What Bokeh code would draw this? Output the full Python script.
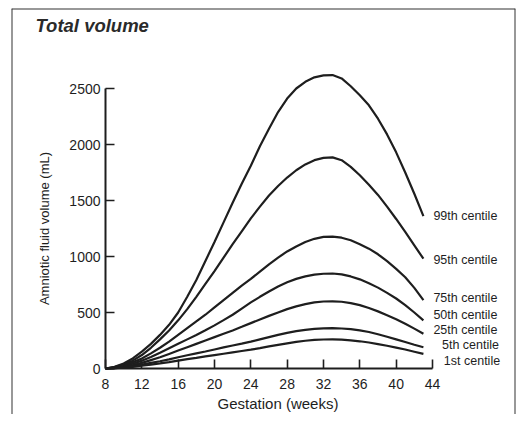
from bokeh.plotting import figure
from bokeh.models import Range1d, FixedTicker, ColumnDataSource, LinearAxis, Label
from bokeh.core.properties import value
from bokeh.embed import file_html
from bokeh.resources import INLINE

# ---- data ----
weeks = [8, 9, 10, 11, 12, 13, 14, 15, 16, 17, 18, 19, 20, 21, 22, 23, 24, 25,
         26, 27, 28, 29, 30, 31, 32, 33, 34, 35, 36, 37, 38, 39, 40, 41, 42, 43]
c99 = [0, 15, 45, 90, 150, 220, 300, 390, 500, 640, 790, 960, 1130, 1305, 1480, 1650, 1810, 1985,
       2140, 2290, 2410, 2500, 2560, 2600, 2617, 2620, 2590, 2520, 2440, 2350, 2230, 2090, 1930, 1750, 1560, 1360]
c95 = [0, 12, 35, 70, 120, 185, 260, 340, 430, 530, 640, 755, 870, 990, 1110, 1225, 1340, 1445,
       1545, 1630, 1705, 1770, 1822, 1860, 1880, 1885, 1860, 1800, 1725, 1640, 1550, 1445, 1335, 1220, 1100, 980]
c75 = [0, 8, 25, 55, 90, 135, 185, 240, 300, 360, 420, 480, 545, 610, 675, 740, 800, 865,
       930, 990, 1045, 1090, 1130, 1158, 1175, 1178, 1168, 1145, 1110, 1070, 1020, 958, 890, 815, 720, 610]
c50 = [0, 6, 20, 42, 70, 103, 140, 180, 220, 260, 300, 342, 385, 432, 480, 535, 590, 640,
       688, 732, 770, 800, 823, 838, 846, 848, 840, 822, 796, 762, 722, 675, 625, 565, 500, 430]
c25 = [0, 5, 15, 30, 50, 75, 100, 130, 160, 190, 220, 250, 280, 310, 340, 372, 405, 438,
       470, 500, 530, 555, 575, 590, 598, 600, 596, 584, 566, 540, 510, 476, 440, 400, 356, 310]
c5 = [0, 3, 10, 21, 35, 50, 65, 82, 100, 118, 135, 152, 170, 188, 205, 222, 240, 260,
      280, 300, 318, 333, 345, 353, 358, 360, 357, 351, 341, 326, 306, 283, 260, 236, 212, 190]
c1 = [0, 2, 8, 15, 25, 35, 45, 57, 70, 83, 95, 108, 120, 132, 144, 156, 168, 182,
      197, 211, 225, 238, 248, 255, 259, 260, 257, 251, 243, 232, 218, 203, 187, 170, 150, 130]

centile_labels = ["99th centile", "95th centile", "75th centile", "50th centile",
                  "25th centile", "5th centile", "1st centile"]
x_ticks = [8, 12, 16, 20, 24, 28, 32, 36, 40, 44]
y_ticks = [0, 500, 1000, 1500, 2000, 2500]

# ---- placement of the end labels (data units) ----
label_x = [44.1, 44.1, 44.1, 44.1, 44.1, 45.05, 45.25]
label_y = [1366, 970, 631, 482, 346, 214, 71]

FONT = "Liberation Sans"
INK = "#1e1e1e"
BOX = "#333333"

# ---- pixel layout: week 8 at x=105 px, 9.083 px/week; 0 mL at y=368 px, 0.112 px/mL
PX_X0, X0, SX = 105.0, 8.0, 9.083
PY_0, SY = 368.0, 0.112


def xd(px):
    return X0 + (px - PX_X0) / SX


def yd(py):
    return (PY_0 - py) / SY


W, H = 516, 414
FL, FT, FR = 11, 8, 515   # panel box: left, top, right edges (px)

p = figure(width=W, height=H, title=None,
           x_range=Range1d(xd(FL), xd(FR)), y_range=Range1d(yd(H), yd(FT)),
           output_backend="svg", toolbar_location=None,
           min_border_left=FL, min_border_right=W - FR,
           min_border_top=FT, min_border_bottom=0)

for ys in [c99, c95, c75, c50, c25, c5, c1]:
    p.line(weeks, ys, line_color=INK, line_width=2.2)

src = ColumnDataSource(dict(x=label_x, y=label_y, t=centile_labels))
p.text(x="x", y="y", text="t", source=src, text_font=value(FONT),
       text_font_size="12.5px", text_color=INK,
       text_align="left", text_baseline="middle")

p.grid.visible = False
p.outline_line_color = None
p.background_fill_color = "white"
p.border_fill_color = "white"

for ax in (p.xaxis[0], p.yaxis[0]):
    ax.axis_line_color = INK
    ax.axis_line_width = 2
    ax.major_tick_line_color = INK
    ax.major_tick_line_width = 1.6
    ax.major_tick_in = 9
    ax.major_tick_out = 0
    ax.minor_tick_line_color = None
    ax.major_label_text_font = FONT
    ax.major_label_text_font_size = "14px"
    ax.major_label_text_color = INK
    ax.axis_label_text_font = FONT
    ax.axis_label_text_font_style = "normal"
    ax.axis_label_text_color = INK

p.xaxis.ticker = FixedTicker(ticks=x_ticks)
p.yaxis.ticker = FixedTicker(ticks=y_ticks)
p.xaxis.bounds = (8, 44)
p.yaxis.bounds = (0, 2500)
p.xaxis.fixed_location = 0
p.yaxis.fixed_location = 8
p.yaxis.axis_label = "Amniotic fluid volume (mL)"
p.yaxis.axis_label_text_font_size = "13px"
p.xaxis.major_label_standoff = 10
p.yaxis.major_label_standoff = 5
p.yaxis.axis_label_standoff = 14

# panel box (left, top, right sides; the bottom is cropped off in the original)
for loc, side in [(xd(FL), "left"), (xd(FR), "right"), (yd(FT), "above")]:
    b = LinearAxis(fixed_location=loc, ticker=FixedTicker(ticks=[]),
                   axis_line_color=BOX, axis_line_width=2,
                   major_tick_line_color=None, minor_tick_line_color=None,
                   major_label_text_font_size="0px")
    p.add_layout(b, side)

p.add_layout(Label(x=xd(35), y=yd(25), text="Total volume",
                   text_font=FONT, text_font_style="bold italic",
                   text_font_size="18.5px", text_color="#2a2a2a",
                   text_align="left", text_baseline="middle"))
p.add_layout(Label(x=xd(277.5), y=yd(403), text="Gestation (weeks)",
                   text_font=FONT, text_font_size="15px", text_color=INK,
                   text_align="center", text_baseline="middle"))

open("out.html", "w").write(file_html(p, INLINE))
